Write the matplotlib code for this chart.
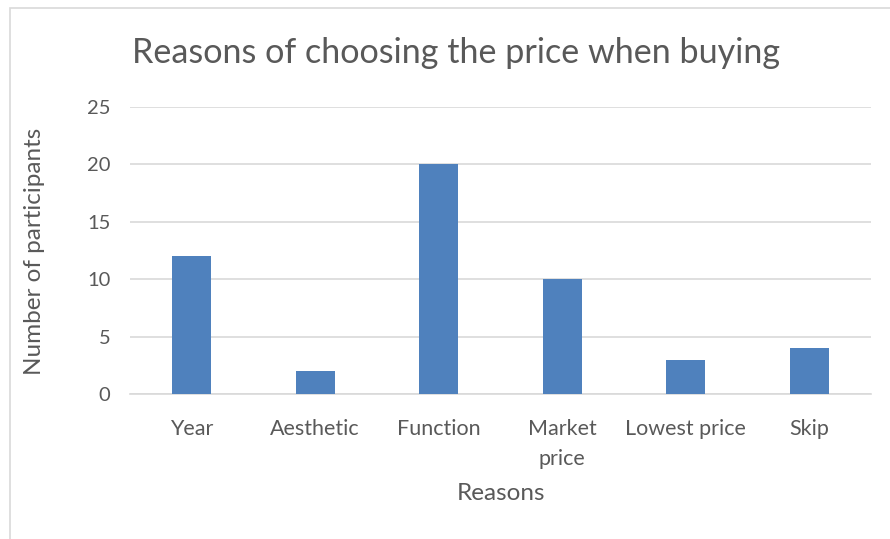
import matplotlib
matplotlib.use('Agg')
import matplotlib.pyplot as plt
from matplotlib.patches import Rectangle

# 数据
reasons = ['Year', 'Aesthetic', 'Function', 'Market\nprice', 'Lowest price', 'Skip']
participants = [12, 2, 20, 10, 3, 4]

plt.rcParams['font.family'] = ['Lato', 'DejaVu Sans']
text_color = '#595959'

fig = plt.figure(figsize=(8.9, 5.39), dpi=100)
fig.patches.append(Rectangle((10 / 890, -0.1), 1.2, 1 - 8 / 539 + 0.1,
                             transform=fig.transFigure, fill=False,
                             edgecolor='#d9d9d9', linewidth=1.2))

ax = fig.add_axes([130 / 890, 145 / 539, 741 / 890, 287 / 539])
ax.bar(range(len(reasons)), participants, width=0.316, color='#4f81bd', zorder=3)

ax.set_xlim(-0.5, len(reasons) - 0.5)
ax.set_ylim(0, 25)
ax.set_yticks(range(0, 26, 5))
ax.set_xticks(range(len(reasons)))
ax.set_xticklabels(reasons, linespacing=1.65, fontsize=15.5)
ax.yaxis.grid(True, color='#d9d9d9', linewidth=1.2, zorder=0)
ax.tick_params(length=0, colors=text_color)
ax.tick_params(axis='x', pad=18)
ax.tick_params(axis='y', pad=14, labelsize=14.5)
for s in ['top', 'right', 'left']:
    ax.spines[s].set_visible(False)
ax.spines['bottom'].set_color('#d9d9d9')
ax.spines['bottom'].set_linewidth(1.2)

fig.text(456 / 890, 1 - 53 / 539, 'Reasons of choosing the price when buying',
         ha='center', va='center', fontsize=24.6, color=text_color)
fig.text(35 / 890, 1 - 251 / 539, 'Number of participants', rotation=90,
         ha='center', va='center', fontsize=17.5, color=text_color)
fig.text(501 / 890, 1 - 493 / 539, 'Reasons', ha='center', va='center',
         fontsize=17.5, color=text_color)

fig.savefig('out.png', dpi=100)
